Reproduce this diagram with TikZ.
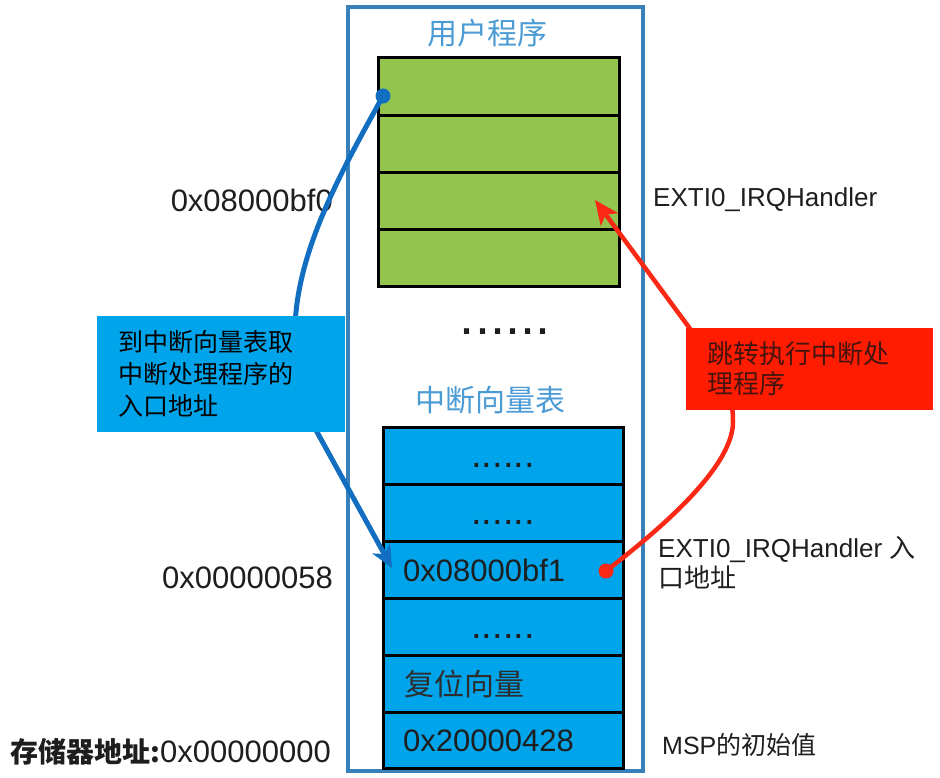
\documentclass[tikz,border=0pt]{standalone}
\usepackage{fontspec}
\setmainfont{Liberation Sans}
\newfontfamily\cjk{Noto Sans CJK SC}
\usetikzlibrary{arrows.meta,positioning}
\newcommand\myfs[2]{\fontsize{#1pt}{#2pt}\selectfont}
\definecolor{frameblue}{RGB}{56,128,186}
\definecolor{titleblue}{RGB}{75,155,213}
\definecolor{proggreen}{RGB}{146,196,78}
\definecolor{vecblue}{RGB}{0,164,234}
\definecolor{curveblue}{RGB}{18,110,192}
\definecolor{calloutred}{RGB}{255,28,0}
\definecolor{curvered}{RGB}{250,40,20}
\definecolor{txt}{RGB}{30,30,30}
\begin{document}
\begin{tikzpicture}[x=1pt,y=1pt,
  greenrow/.style={draw=black, line width=3pt, fill=proggreen, minimum width=241pt, minimum height=57.25pt, inner sep=0pt, outer sep=0pt},
  bluerow/.style={draw=black, line width=3pt, fill=vecblue, minimum width=240pt, minimum height=56.83pt, inner sep=0pt, outer sep=0pt},
  titletext/.style={text=titleblue, font=\cjk\myfs{30}{36}, inner sep=0pt},
  celltext/.style={text=txt, font=\myfs{31}{36}, inner sep=0pt, anchor=west},
  addr/.style={text=txt, font=\myfs{31}{36}, inner sep=0pt, anchor=east},
  note/.style={text=txt, font=\myfs{26}{30}, inner sep=0pt, anchor=west, align=left},
  rowdots/.style={text=txt, font=\myfs{38}{40}, inner sep=0pt, anchor=base},
  callout/.style={inner xsep=21pt, inner ysep=0pt, outer sep=0pt, align=left, font=\cjk\myfs{25}{32}},
  dotmark/.style={circle, inner sep=0pt, minimum size=15pt},
  flow/.style={line width=5pt, line cap=round},
]
\useasboundingbox (0,0) rectangle (940,-778);
\fill[white] (0,0) rectangle (940,-778);

% outer frame
\node[draw=frameblue, line width=4pt, minimum width=295pt, minimum height=764pt, inner sep=0pt] (frame) at (495.5,-389) {};

% user program
\node[titletext] (t1) at (487,-33) {用户程序};
\node[greenrow] (g1) at (498.5,-86.6) {};
\node[greenrow, below=0pt of g1] (g2) {};
\node[greenrow, below=0pt of g2] (g3) {};
\node[greenrow, below=0pt of g3] (g4) {};

\node[text=txt, font=\myfs{54}{56}, inner sep=0pt, anchor=base] (mid) at (505,-334.5) {......};

% vector table
\node[titletext] (t2) at (490,-400) {中断向量表};
\node[bluerow] (b1) at (503,-456.4) {};
\node[bluerow, below=0pt of b1] (b2) {};
\node[bluerow, below=0pt of b2] (b3) {};
\node[bluerow, below=0pt of b3] (b4) {};
\node[bluerow, below=0pt of b4] (b5) {};
\node[bluerow, below=0pt of b5] (b6) {};

\node[rowdots] (d1) at ([yshift=-11.5pt]b1.center) {......};
\node[rowdots] (d2) at ([yshift=-11.5pt]b2.center) {......};
\node[rowdots] (d4) at ([yshift=-11.5pt]b4.center) {......};
\node[celltext] (v3) at ([xshift=20pt]b3.west) {0x08000bf1};
\node[celltext, font=\cjk\myfs{30}{36}, text={rgb,255:red,45;green,45;blue,45}] (v5) at ([xshift=21pt]b5.west) {复位向量};
\node[celltext] (v6) at ([xshift=20pt]b6.west) {0x20000428};

% address labels
\node[addr] (a1) at (333,-200) {0x08000bf0};
\node[addr] (a2) at (333,-578) {0x00000058};
\node[addr] (a3) at (331,-752) {{\cjk\bfseries\myfs{28}{32}存储器地址:}0x00000000};

% right notes
\node[note] (n1) at (653,-200) {EXTI0\_IRQHandler};
\node[note] (n2) at (658,-563) {EXTI0\_IRQHandler {\cjk 入}\\{\cjk 口地址}};
\node[note, font=\myfs{25}{30}] (n3) at (662,-745) {MSP{\cjk 的初始值}};

% dots and connectors
\node[dotmark, fill=curveblue] (bdot) at (383,-96) {};
\coordinate (btip) at (392,-568);
\node[dotmark, fill=curvered] (rdot) at (606,-571) {};
\coordinate (rtip) at (595,-200);

\draw[flow, draw=curveblue, -{Stealth[length=22pt,width=20pt,inset=6pt]}]
  (bdot.center) .. controls (345,-165) and (296,-250) .. (295,-330)
  .. controls (294,-380) and (305,-410) .. (317,-432) -- (btip);
\draw[flow, line width=4.5pt, draw=curvered, -{Stealth[length=24pt,width=21pt,inset=6pt]}]
  (rdot.center) .. controls (650,-537) and (733,-470) .. (733,-422)
  .. controls (733,-380) and (713,-360) .. (688,-326) -- (rtip);

% callouts
\node[callout, fill=vecblue, minimum width=248pt, minimum height=116pt, text width=206pt, text=black] (c1) at (221,-374)
  {到中断向量表取\\中断处理程序的\\入口地址};
\node[callout, fill=calloutred, minimum width=247pt, minimum height=82pt, text width=205pt, font=\cjk\myfs{26}{30}, text={rgb,255:red,70;green,20;blue,15}] (c2) at (809.5,-369)
  {跳转执行中断处\\理程序};
\end{tikzpicture}
\end{document}
